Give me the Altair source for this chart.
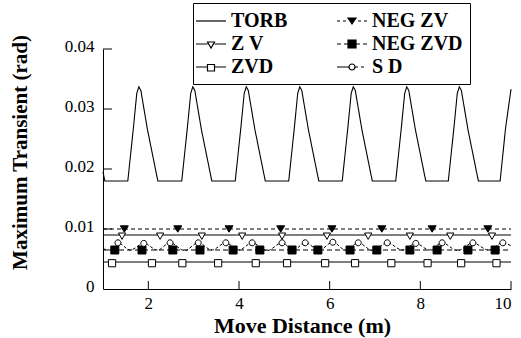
import altair as alt
import pandas as pd

# ---------------- data ----------------
# legend order is column-major: first column TORB / Z V / ZVD, second NEG ZV / NEG ZVD / S D
series_order = ["TORB", "Z V", "ZVD", "NEG ZV", "NEG ZVD", "S D"]

torb_x = [1.00, 1.04,
          1.547, 1.67, 1.745, 1.79, 1.835, 1.98, 2.21,
          2.737, 2.86, 2.935, 2.98, 3.025, 3.17, 3.40,
          3.917, 4.04, 4.115, 4.16, 4.205, 4.35, 4.58,
          5.097, 5.22, 5.295, 5.34, 5.385, 5.53, 5.76,
          6.277, 6.40, 6.475, 6.52, 6.565, 6.71, 6.94,
          7.457, 7.58, 7.655, 7.70, 7.745, 7.89, 8.12,
          8.617, 8.74, 8.815, 8.86, 8.905, 9.05, 9.28,
          9.76, 9.88, 10.00]
torb_y = [0.0195, 0.0180,
          0.0180, 0.0268, 0.0326, 0.0337, 0.0331, 0.0266, 0.0180,
          0.0180, 0.0268, 0.0326, 0.0337, 0.0331, 0.0266, 0.0180,
          0.0180, 0.0268, 0.0326, 0.0337, 0.0331, 0.0266, 0.0180,
          0.0180, 0.0268, 0.0326, 0.0337, 0.0331, 0.0266, 0.0180,
          0.0180, 0.0268, 0.0326, 0.0337, 0.0331, 0.0266, 0.0180,
          0.0180, 0.0268, 0.0326, 0.0337, 0.0331, 0.0266, 0.0180,
          0.0180, 0.0268, 0.0326, 0.0337, 0.0331, 0.0266, 0.0180,
          0.0180, 0.0268, 0.0333]

negzv_x = [1.0, 10.0]
negzv_y = [0.0100, 0.0100]
negzv_mx = [1.47, 2.65, 3.78, 4.92, 6.05, 7.15, 8.26, 9.49]
negzv_my = [0.0100, 0.0100, 0.0100, 0.0100, 0.0100, 0.0100, 0.0100, 0.0100]

zv_x = [1.0, 10.0]
zv_y = [0.0090, 0.0090]
zv_mx = [1.42, 2.26, 3.18, 4.07, 4.95, 5.94, 6.85, 7.77, 8.66, 9.58]
zv_my = [0.0090, 0.0090, 0.0090, 0.0090, 0.0090, 0.0090, 0.0090, 0.0090, 0.0090, 0.0090]

negzvd_x = [1.0, 10.0]
negzvd_y = [0.0065, 0.0065]
negzvd_mx = [1.26, 1.86, 2.54, 3.14, 3.87, 4.46, 5.17, 5.74, 6.45, 7.04, 7.77, 8.37, 9.05, 9.65]
negzvd_my = [0.0065, 0.0065, 0.0065, 0.0065, 0.0065, 0.0065, 0.0065,
             0.0065, 0.0065, 0.0065, 0.0065, 0.0065, 0.0065, 0.0065]

zvd_x = [1.0, 10.0]
zvd_y = [0.0045, 0.0045]
zvd_mx = [1.20, 2.08, 2.75, 3.54, 4.37, 5.06, 5.90, 6.56, 7.36, 8.16, 8.90, 9.68]
zvd_my = [0.0045, 0.0045, 0.0045, 0.0045, 0.0045, 0.0045,
          0.0045, 0.0045, 0.0045, 0.0045, 0.0045, 0.0045]

sd_x = [1.00, 1.15, 1.33, 1.60, 1.90, 2.20, 2.48, 2.80, 3.10, 3.40, 3.71, 4.00,
        4.29, 4.62, 4.95, 5.20, 5.46, 5.77, 6.07, 6.35, 6.63, 6.95, 7.27, 7.60,
        7.90, 8.20, 8.48, 8.82, 9.16, 9.50, 9.82, 10.00]
sd_y = [0.0067, 0.0065, 0.0077, 0.0065, 0.0076, 0.0065, 0.0077, 0.0064, 0.0077, 0.0065, 0.0077, 0.0065,
        0.0077, 0.0064, 0.0077, 0.0065, 0.0077, 0.0065, 0.0078, 0.0065, 0.0077, 0.0064, 0.0077, 0.0065,
        0.0076, 0.0065, 0.0077, 0.0064, 0.0077, 0.0065, 0.0077, 0.0072]
sd_mx = [1.33, 1.90, 2.48, 3.10, 3.71, 4.29, 4.95, 5.46, 6.07, 6.63, 7.27, 7.90, 8.48, 9.16, 9.82]
sd_my = [0.0077, 0.0076, 0.0077, 0.0077, 0.0077, 0.0077, 0.0077, 0.0077, 0.0078, 0.0077, 0.0077,
         0.0076, 0.0077, 0.0077, 0.0077]

y_tick_values = [0, 0.01, 0.02, 0.03, 0.04]
x_tick_values = [2, 4, 6, 8, 10]

# ---------------- tables ----------------
def long(name, xs, ys):
    return pd.DataFrame({"series": name, "x": xs, "y": ys, "i": range(len(xs))})

lines_df = pd.concat([
    long("TORB", torb_x, torb_y),
    long("NEG ZV", negzv_x, negzv_y),
    long("Z V", zv_x, zv_y),
    long("NEG ZVD", negzvd_x, negzvd_y),
    long("ZVD", zvd_x, zvd_y),
], ignore_index=True)
sd_df = long("S D", sd_x, sd_y)
markers_df = pd.concat([
    long("NEG ZV", negzv_mx, negzv_my),
    long("Z V", zv_mx, zv_my),
    long("NEG ZVD", negzvd_mx, negzvd_my),
    long("ZVD", zvd_mx, zvd_my),
    long("S D", sd_mx, sd_my),
], ignore_index=True)
legend_df = pd.DataFrame({"series": series_order})
ytick_df = pd.DataFrame({"v": y_tick_values[1:]})
xtick_df = pd.DataFrame({"v": x_tick_values})

FONT = "Liberation Serif, 'Times New Roman', Times, 'DejaVu Serif', serif"

xscale = alt.Scale(domain=[1, 10], nice=False, zero=False)
yscale = alt.Scale(domain=[0, 0.04], nice=False, zero=False)

x_enc = alt.X("x:Q", scale=xscale, axis=alt.Axis(
    values=x_tick_values, ticks=False, grid=False, domainColor="black",
    labelFont=FONT, labelFontSize=17, labelColor="black", labelPadding=6,
    title="Move Distance (m)", titleFont=FONT, titleFontSize=22, titleFontWeight="bold",
    titleColor="black", titleX=199, titleY=36, titleBaseline="middle"))
y_enc = alt.Y("y:Q", scale=yscale, axis=alt.Axis(
    values=y_tick_values, ticks=False, grid=False, domainColor="black",
    labelExpr="datum.value == 0 ? '0' : format(datum.value, '.2f')",
    labelFont=FONT, labelFontSize=17, labelColor="black", labelPadding=9, labelOffset=-3,
    title="Maximum Transient (rad)", titleFont=FONT, titleFontSize=21, titleFontWeight="bold",
    titleColor="black", titleX=-83, titleY=103, titleAlign="center", titleBaseline="middle"))

line_order = ["TORB", "NEG ZV", "Z V", "NEG ZVD", "ZVD"]
line_dash = [[1, 0], [4, 3], [1, 0], [5, 3], [1, 0]]

lines = alt.Chart(lines_df).mark_line(color="black", strokeWidth=1.1).encode(
    x=x_enc, y=y_enc, detail="series:N", order="i:Q",
    strokeDash=alt.StrokeDash("series:N", scale=alt.Scale(domain=line_order, range=line_dash), legend=None),
)

sd_line = alt.Chart(sd_df).mark_line(color="black", strokeWidth=1, strokeDash=[3, 2],
                                     interpolate="monotone").encode(
    x=alt.X("x:Q", scale=xscale), y=alt.Y("y:Q", scale=yscale), order="i:Q")

mk_order = ["NEG ZV", "Z V", "NEG ZVD", "ZVD", "S D"]
mk_shapes = [
    "M-1,-0.8L1,-0.8L0,0.8Z",
    "M-0.9,-0.5L0.9,-0.5L0,1.1Z",
    "M-1,-1H1V1H-1Z",
    "M-0.9,-0.6H0.9V1.2H-0.9Z",
    "M-0.75,0A0.75,0.75 0 1,1 0.75,0A0.75,0.75 0 1,1 -0.75,0Z",
]
mk_fill = ["black", "white", "black", "white", "white"]

markers = alt.Chart(markers_df).mark_point(size=64, stroke="black", strokeWidth=1, opacity=1).encode(
    x=alt.X("x:Q", scale=xscale), y=alt.Y("y:Q", scale=yscale),
    shape=alt.Shape("series:N", scale=alt.Scale(domain=mk_order, range=mk_shapes), legend=None),
    fill=alt.Fill("series:N", scale=alt.Scale(domain=mk_order, range=mk_fill), legend=None),
)

ytick = alt.Chart(ytick_df).mark_rule(color="black", strokeWidth=1).encode(
    y=alt.Y("v:Q", scale=yscale), x=alt.value(0), x2=alt.value(9))
xtick = alt.Chart(xtick_df).mark_rule(color="black", strokeWidth=1).encode(
    x=alt.X("v:Q", scale=xscale), y=alt.value(240), y2=alt.value(232))

# legend glyphs (line + marker), 10 px per unit; filled markers drawn with hatching strokes
tri_fill = ("M-0.4,-0.3L0.4,-0.3L0,0.3Z"
            "M-0.367,-0.25H0.367M-0.3,-0.15H0.3M-0.233,-0.05H0.233"
            "M-0.167,0.05H0.167M-0.1,0.15H0.1M-0.033,0.25H0.033")
sq_fill = ("M-0.4,-0.4H0.4V0.4H-0.4Z"
           "M-0.4,-0.35H0.4M-0.4,-0.25H0.4M-0.4,-0.15H0.4M-0.4,-0.05H0.4"
           "M-0.4,0.05H0.4M-0.4,0.15H0.4M-0.4,0.25H0.4M-0.4,0.35H0.4")
lg_shapes = [
    "M-1.5,0H1.5",
    "M-1.5,0H-0.35M0.35,0H1.5M-0.35,-0.2L0.35,-0.2L0,0.4Z",
    "M-1.5,0H-0.35M0.35,0H1.5M-0.35,-0.25H0.35V0.4H-0.35Z",
    "M-1.5,0H-1.2M-0.9,0H-0.6M0.6,0H0.9M1.2,0H1.5" + tri_fill,
    "M-1.5,0H-1.1M-0.8,0H-0.45M0.45,0H0.8M1.1,0H1.5" + sq_fill,
    "M-1.5,0H-0.3M0.3,0H0.6M0.9,0H1.2M-0.3,0A0.3,0.3 0 1,1 0.3,0A0.3,0.3 0 1,1 -0.3,0Z",
]

leg = alt.Legend(
    title=None, orient="none", legendX=90, legendY=-46, columns=2,
    strokeColor="black", fillColor="white", padding=7, rowPadding=2, columnPadding=46,
    symbolSize=400, symbolStrokeWidth=1.2, symbolStrokeColor="black",
    labelFont=FONT, labelFontWeight="bold", labelFontSize=20, labelColor="black", labelOffset=9,
)

legend_layer = alt.Chart(legend_df).transform_filter("false").mark_point(
    size=400, stroke="black", strokeWidth=1.2, filled=False, opacity=1).encode(
    shape=alt.Shape("series:N", scale=alt.Scale(domain=series_order, range=lg_shapes), legend=leg),
)

chart = alt.layer(lines, sd_line, markers, ytick, xtick, legend_layer).resolve_scale(
    shape="independent", fill="independent", strokeDash="independent"
).properties(
    width=408, height=240,
    padding={"left": 103, "top": 49, "right": 10, "bottom": 49},
    autosize=alt.AutoSizeParams(type="none"),
).configure_view(strokeWidth=0)

chart.save("out.html", embed_options={"renderer": "svg", "actions": False})
